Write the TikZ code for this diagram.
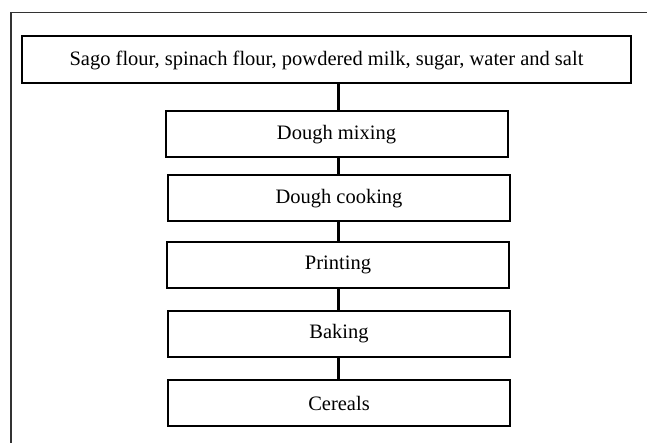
\documentclass[tikz,border=0pt]{standalone}
\usepackage{fontspec}
\setmainfont{Liberation Serif}
\begin{document}
\begin{tikzpicture}[x=1pt,y=-1pt,
  stepbox/.style={draw=black,line width=2pt,minimum width=342pt,minimum height=46pt,inner sep=0pt,font=\fontsize{20.5}{24}\selectfont},
  link/.style={line width=3pt}]
\useasboundingbox (0,0) rectangle (647,443);
\draw[line width=1.4pt,black!80] (11,443) -- (11,12.5) -- (647,12.5);
\node[stepbox,minimum width=609pt,minimum height=47pt] (src) at (326.5,60) {Sago flour, spinach flour, powdered milk, sugar, water and salt};
\node[stepbox] (mix) at (336.5,134.5) {Dough mixing};
\node[stepbox] (cook) at (339,198.5) {Dough cooking};
\node[stepbox] (print) at (338,265) {Printing};
\node[stepbox] (bake) at (339,333.5) {Baking};
\node[stepbox] (cer) at (339,403) {Cereals};
\coordinate (cx) at (338,0);
\draw[link] (src.south -| cx) -- (mix.north -| cx);
\draw[link] (mix.south -| cx) -- (cook.north -| cx);
\draw[link] (cook.south -| cx) -- (print.north -| cx);
\draw[link] (print.south -| cx) -- (bake.north -| cx);
\draw[link] (bake.south -| cx) -- (cer.north -| cx);
\end{tikzpicture}
\end{document}
